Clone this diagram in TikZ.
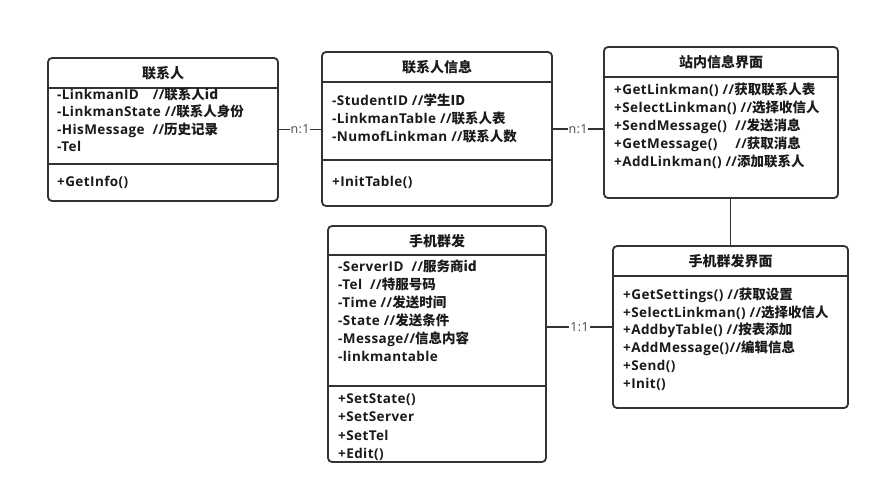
\documentclass[tikz,border=0pt]{standalone}
\usepackage{fontspec}
\setmainfont{Open Sans}[LetterSpace=3]
\newfontfamily\cjk{Noto Sans CJK SC}
\usetikzlibrary{calc}

\definecolor{boxline}{HTML}{333333}
\definecolor{boxtext}{HTML}{1A1A1A}

\tikzset{
    classbox/.style={draw=boxline, line width=1.8pt, rounded corners=4pt, fill=white, inner sep=0pt},
    title/.style={font=\fontsize{14}{16}\selectfont\cjk\bfseries, text=boxtext, inner sep=0pt},
    member/.style={font=\fontsize{13.5}{16}\selectfont\bfseries, text=boxtext, anchor=west,
        inner sep=0pt, text height=10pt, text depth=3.5pt},
    link/.style={draw=boxline, line width=1.8pt},
    mult/.style={font=\fontsize{12.5}{14}\selectfont, text=boxline!90, fill=white, inner sep=1pt}
}

\begin{document}
\begin{tikzpicture}[x=1pt,y=-1pt]
            \useasboundingbox (0,0) rectangle (880,495);

            \node[classbox, minimum width=230pt, minimum height=143pt] (lm) at (163,129.5) {};
            \node[classbox, minimum width=230pt, minimum height=154pt] (lminfo) at (437,129) {};
            \node[classbox, minimum width=234pt, minimum height=151pt] (ui) at (721,122.5) {};
            \node[classbox, minimum width=218pt, minimum height=236pt] (sms) at (437,344) {};
            \node[classbox, minimum width=235pt, minimum height=162pt] (smsui) at (730.5,327) {};

            \draw[link] (lm.north west |- 0,88) -- (lm.north east |- 0,88)
                        (lm.north west |- 0,164) -- (lm.north east |- 0,164);
            \draw[link] (lminfo.north west |- 0,82) -- (lminfo.north east |- 0,82)
                        (lminfo.north west |- 0,160) -- (lminfo.north east |- 0,160);
            \draw[link] (ui.north west |- 0,77) -- (ui.north east |- 0,77);
            \draw[link] (sms.north west |- 0,255) -- (sms.north east |- 0,255)
                        (sms.north west |- 0,386) -- (sms.north east |- 0,386);
            \draw[link] (smsui.north west |- 0,276) -- (smsui.north east |- 0,276);

            \node[title] (lm-title) at (163,73) {联系人};
            \node[title] (lminfo-title) at (437,67) {联系人信息};
            \node[title] (ui-title) at (721,62) {站内信息界面};
            \node[title] (sms-title) at (437,241) {手机群发};
            \node[title] (smsui-title) at (730.5,261) {手机群发界面};

            \foreach \t [count=\i] in {-LinkmanID\hspace{14pt}//\cjk 联系人id, -LinkmanState //\cjk 联系人身份,
                    -HisMessage\hspace{8pt}//\cjk 历史记录, -Tel}
                \node[member] (lm-a\i) at (57,78.5+\i*17.5) {\t};
            \node[member] (lm-m1) at (57,183) {+GetInfo()};

            \foreach \t [count=\i] in {-StudentID //\cjk 学生ID, -LinkmanTable //\cjk 联系人表,
                    -NumofLinkman //\cjk 联系人数}
                \node[member] (lminfo-a\i) at (332,84+\i*18) {\t};
            \node[member] (lminfo-m1) at (332,183) {+InitTable()};

            \foreach \t [count=\i] in {+GetLinkman() //\cjk 获取联系人表, +SelectLinkman() //\cjk 选择收信人,
                    +SendMessage()\hspace{8pt}//\cjk 发送消息, +GetMessage()\hspace{18pt}//\cjk 获取消息,
                    +AddLinkman() //\cjk 添加联系人}
                \node[member] (ui-a\i) at (614,73+\i*18) {\t};

            \foreach \t [count=\i] in {-ServerID\hspace{8pt}//\cjk 服务商id, -Tel\hspace{8pt}//\cjk 特服号码,
                    -Time //\cjk 发送时间, -State //\cjk 发送条件, -Message//\cjk 信息内容, -linkmantable}
                \node[member] (sms-a\i) at (338,250+\i*18) {\t};
            \foreach \t [count=\i] in {+SetState(), +SetServer, +SetTel, +Edit()}
                \node[member] (sms-m\i) at (338,382+\i*18.3) {\t};

            \foreach \t [count=\i] in {+GetSettings() //\cjk 获取设置, +SelectLinkman() //\cjk 选择收信人,
                    +AddbyTable() //\cjk 按表添加, +AddMessage()//\cjk 编辑信息, +Send(), +Init()}
                \node[member] (smsui-a\i) at (623,278.2+\i*17.8) {\t};

            \draw[link] (lm.east) -- node[mult]{n:1} (lm.east -| lminfo.west);
            \draw[link] (lminfo.east) -- node[mult]{n:1} (lminfo.east -| ui.west);
            \draw[link] (smsui.west -| sms.east) -- node[mult]{1:1} (smsui.west);
            \draw[link] (smsui.north |- ui.south) -- (smsui.north);
        \end{tikzpicture}
\end{document}
